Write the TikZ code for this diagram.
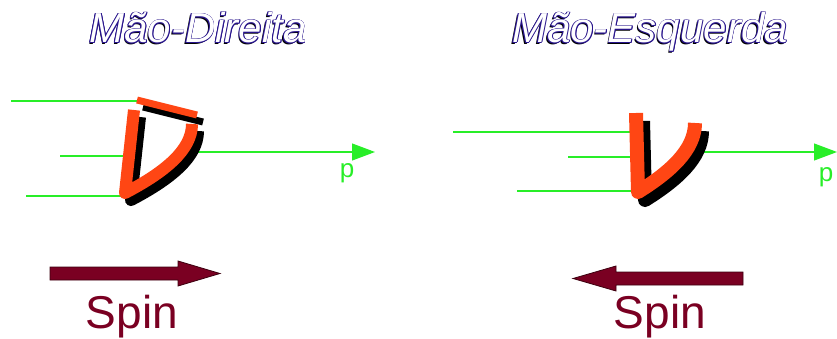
\documentclass[tikz,border=0pt]{standalone}
\usepackage{fontspec}
\setmainfont{Liberation Sans}
\usetikzlibrary{arrows.meta}

\definecolor{rayGreen}{RGB}{40,238,40}
\definecolor{nuOrange}{RGB}{255,70,20}
\definecolor{spinRed}{RGB}{122,0,34}
\definecolor{spinEdge}{RGB}{60,0,15}
\definecolor{titleBlue}{RGB}{40,20,140}

\tikzset{
  handtext/.style={font=\fontsize{42}{46}\selectfont\itshape, anchor=base, inner sep=0pt},
  spinlabel/.style={font=\fontsize{46}{50}\selectfont, text=spinRed, anchor=base, inner sep=0pt},
  plabel/.style={font=\fontsize{26}{30}\selectfont, text=rayGreen, anchor=base, inner sep=0pt},
  ray/.style={draw=rayGreen, line width=1.1pt},
  momentum/.style={ray, -{Triangle[length=23pt,width=17pt]}},
  nustroke/.style={line width=#1, line join=round, line cap=butt},
  spinarrow/.style={fill=spinRed, draw=spinEdge, line width=0.8pt}
}

% outlined title with a dark shadow
\newcommand{\handtitle}[4]{%
  \node[handtext, text=black] at (#2-1.4,#3+1.4) {#4};
  \foreach \dx/\dy in {0.8/0,-0.8/0,0/0.8,0/-0.8,0.6/0.6,-0.6/0.6,0.6/-0.6,-0.6/-0.6}
    \node[handtext, text=titleBlue] at (#2+\dx,#3+\dy) {#4};
  \node[handtext, text=white] (#1) at (#2,#3) {#4};
}

\begin{document}
\begin{tikzpicture}[x=1pt,y=-1pt]
\useasboundingbox (0,0) rectangle (837,339);

% titles
\handtitle{titleR}{198}{43}{Mão-Direita}
\handtitle{titleL}{650}{43}{Mão-Esquerda}

% right-handed antineutrino
\draw[ray] (11,101) -- (140,101);
\draw[ray] (60,156) -- (130,156);
\draw[ray] (26,196) -- (128,196);
\draw[momentum] (195,152) coordinate (pstartR) -- (375,152) coordinate (ptipR);
\node[plabel] (pR) at (347,178) {p};
\begin{scope}[shift={(6,7)}]
\draw[nustroke=12pt, black] (134,110) -- (125,193) .. controls (165,172) and (192,150) .. (192,124);
\draw[nustroke=7pt, black] (137,100) -- (197,115);
\end{scope}
\draw[nustroke=12pt, nuOrange] (134,110) -- (125,193) .. controls (165,172) and (192,150) .. (192,124);
\draw[nustroke=7pt, nuOrange] (137,100) -- (197,115);

% left-handed neutrino
\draw[ray] (453,132) -- (650,132);
\draw[ray] (568,157) -- (634,157);
\draw[ray] (517,191) -- (634,191);
\draw[momentum] (700,152) coordinate (pstartL) -- (837,152) coordinate (ptipL);
\node[plabel] (pL) at (826,182) {p};
\begin{scope}[shift={(7,8)}]
\draw[nustroke=14pt, black] (636,113) -- (638,192) .. controls (670,172) and (695,150) .. (695,123);
\end{scope}
\draw[nustroke=14pt, nuOrange] (636,113) -- (638,192) .. controls (670,172) and (695,150) .. (695,123);

% spin arrows
\draw[spinarrow] (50,267) -- (178,267) -- (178,261) -- (220,273.5) -- (178,286) -- (178,280) -- (50,280) -- cycle;
\node[spinlabel] (spinR) at (132,328) {Spin};
\draw[spinarrow] (743,272) -- (616,272) -- (616,266) -- (573,278.5) -- (616,291) -- (616,285) -- (743,285) -- cycle;
\node[spinlabel] (spinL) at (660,328) {Spin};
\end{tikzpicture}
\end{document}
